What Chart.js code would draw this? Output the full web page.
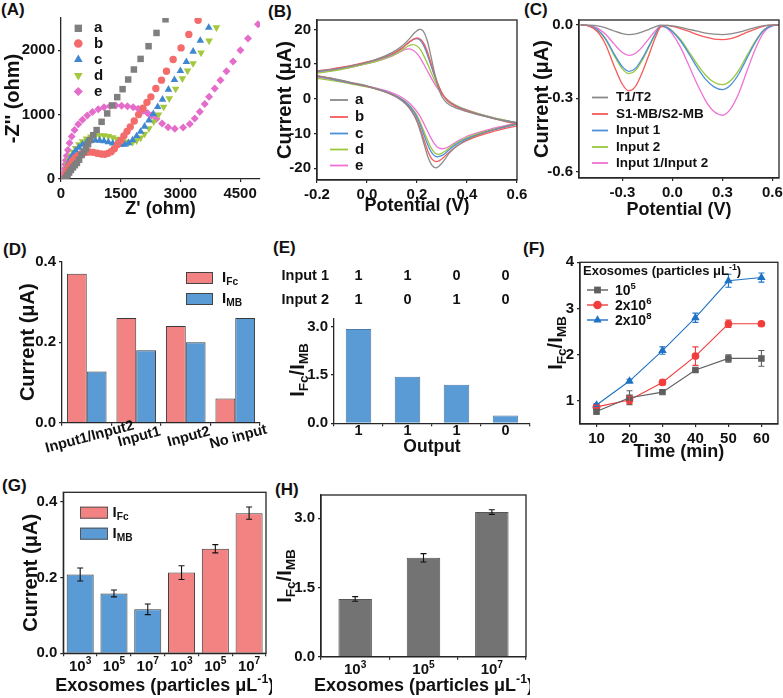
<!DOCTYPE html>
<html><head><meta charset="utf-8">
<title>Figure</title>
<script src="https://cdn.jsdelivr.net/npm/chart.js@4.4.1/dist/chart.umd.min.js"></script>
<style>
html,body{margin:0;padding:0;background:#fff;}
body{position:relative;width:783px;height:698px;overflow:hidden;}
canvas{position:absolute;}
.pl{position:absolute;font-family:'Liberation Sans',Arial,sans-serif;font-weight:bold;font-size:17px;line-height:17px;color:#111;white-space:nowrap;}
</style></head><body>
<div class="pl" style="left:1px;top:1px">(A)</div>
<div class="pl" style="left:268px;top:3px">(B)</div>
<div class="pl" style="left:524px;top:1px">(C)</div>
<div class="pl" style="left:3px;top:241px">(D)</div>
<div class="pl" style="left:273px;top:239px">(E)</div>
<div class="pl" style="left:523px;top:240px">(F)</div>
<div class="pl" style="left:2px;top:477px">(G)</div>
<div class="pl" style="left:275px;top:481px">(H)</div>
<script>
// ================= DATA =================
// (A) Nyquist plots: [Z', -Z''] pairs
const nyqNames = ['a','b','c','d','e'];
const nyqA = [[100,0],[130,25],[165,60],[205,100],[250,140],[300,180],[350,215],[400,250],[455,300],[518,372],[575,425],[627,476],[680,540],[727,604],[810,680],[895,760],[1020,888],[1161,1018],[1287,1142],[1413,1271],[1547,1395],[1688,1545],[1831,1700],[2000,1865],[2200,2062],[2400,2268],[2626,2480]];
const nyqB = [[100,0],[112,40],[130,85],[155,130],[190,180],[235,230],[290,280],[355,325],[430,362],[515,392],[610,412],[710,420],[810,414],[910,400],[1010,388],[1100,385],[1180,398],[1260,425],[1340,470],[1420,535],[1500,600],[1580,670],[1660,740],[1740,810],[1840,900],[1950,1000],[2060,1100],[2160,1190],[2258,1276],[2383,1406],[2525,1535],[2650,1674],[2818,1856],[3017,2036],[3211,2245],[3444,2465]];
const nyqC = [[100,0],[110,45],[125,95],[145,150],[172,210],[205,270],[250,330],[305,385],[370,440],[450,490],[540,535],[640,570],[750,592],[860,600],[970,598],[1080,588],[1190,572],[1300,553],[1400,538],[1500,530],[1600,535],[1700,560],[1800,605],[1900,665],[2000,735],[2100,815],[2210,910],[2320,1010],[2430,1120],[2550,1235],[2700,1390],[2850,1540],[3000,1680],[3150,1820],[3320,1980],[3500,2150],[3712,2352]];
const nyqD = [[100,0],[110,50],[125,105],[145,165],[172,230],[205,295],[250,360],[305,420],[370,480],[450,535],[540,585],[640,625],[750,655],[860,672],[970,678],[1080,675],[1190,665],[1300,645],[1400,622],[1500,598],[1600,578],[1700,565],[1800,572],[1900,598],[2000,640],[2100,700],[2210,785],[2330,890],[2450,1000],[2580,1120],[2720,1250],[2880,1400],[3050,1560],[3180,1680],[3318,1794],[3519,1960],[3720,2147],[3905,2352]];
const nyqE = [[70,0],[75,45],[82,100],[92,160],[105,225],[122,290],[145,360],[175,450],[215,560],[268,660],[340,760],[434,850],[540,920],[660,985],[790,1040],[936,1085],[1080,1115],[1229,1132],[1375,1140],[1522,1137],[1670,1131],[1814,1115],[1940,1090],[2064,1060],[2170,1025],[2275,985],[2400,935],[2541,863],[2692,805],[2859,780],[3068,801],[3236,853],[3361,941],[3487,1044],[3612,1163],[3720,1276],[3863,1406],[4006,1535],[4156,1674],[4323,1824],[4507,2000],[4698,2181],[4950,2403]];
const nyqXTicks = [0,1500,3000,4500];
const nyqYTicks = [0,1000,2000];

// (B) Cyclic voltammograms: [potential V, current uA], forward then reverse scan
const cvNames = ['a','b','c','d','e'];
const cvA = [[-0.2,8.0],[-0.15,8.3],[-0.1,8.9],[-0.05,9.6],[0,10.5],[0.05,11.7],[0.1,13.3],[0.14,15.2],[0.17,17.3],[0.19,19.0],[0.21,20.0],[0.225,19.5],[0.24,17.0],[0.255,12.5],[0.27,7.5],[0.285,3.4],[0.3,0.6],[0.32,-1.2],[0.35,-2.5],[0.4,-3.7],[0.45,-4.7],[0.5,-5.6],[0.55,-6.4],[0.6,-7.0],
  [0.55,-8.0],[0.5,-9.0],[0.45,-10.2],[0.4,-11.8],[0.36,-13.6],[0.33,-15.6],[0.31,-17.6],[0.29,-19.3],[0.275,-19.9],[0.26,-19.2],[0.245,-17.0],[0.23,-13.5],[0.215,-9.8],[0.2,-6.6],[0.18,-3.8],[0.155,-1.5],[0.12,0.4],[0.08,1.8],[0.04,2.8],[0,3.7],[-0.05,4.5],[-0.1,5.3],[-0.15,6.0],[-0.2,6.6]];
const cvB = [[-0.2,8.0],[-0.15,8.5],[-0.1,9.1],[-0.05,9.8],[0,10.6],[0.05,11.6],[0.1,12.9],[0.14,14.6],[0.17,16.4],[0.196,17.5],[0.215,17.1],[0.23,15.6],[0.245,12.8],[0.26,9.4],[0.275,6.0],[0.29,3.2],[0.305,1.0],[0.325,-0.8],[0.35,-2.0],[0.4,-3.5],[0.45,-4.6],[0.5,-5.6],[0.55,-6.5],[0.6,-7.3],
  [0.6,-7.8],[0.55,-8.6],[0.5,-9.5],[0.45,-10.6],[0.4,-12.0],[0.36,-13.6],[0.33,-15.3],[0.305,-17.0],[0.29,-17.8],[0.276,-18.1],[0.26,-17.4],[0.245,-15.3],[0.23,-12.3],[0.215,-9.0],[0.2,-6.2],[0.18,-3.6],[0.155,-1.4],[0.12,0.5],[0.08,1.8],[0.04,2.8],[0,3.6],[-0.05,4.4],[-0.1,5.2],[-0.15,6.0],[-0.2,6.7]];
const cvC = [[-0.2,7.8],[-0.15,8.3],[-0.1,9.0],[-0.05,9.7],[0,10.5],[0.05,11.5],[0.1,12.8],[0.14,14.6],[0.17,16.4],[0.192,17.3],[0.21,17.0],[0.225,15.6],[0.24,13.0],[0.255,9.8],[0.27,6.6],[0.285,3.8],[0.3,1.6],[0.32,-0.4],[0.35,-1.9],[0.4,-3.4],[0.45,-4.5],[0.5,-5.5],[0.55,-6.3],[0.6,-7.0],
  [0.6,-7.3],[0.55,-8.2],[0.5,-9.1],[0.45,-10.2],[0.4,-11.5],[0.36,-13.0],[0.33,-14.6],[0.31,-15.9],[0.293,-16.5],[0.279,-16.7],[0.265,-16.1],[0.25,-14.4],[0.235,-11.8],[0.22,-8.8],[0.205,-6.1],[0.185,-3.5],[0.16,-1.3],[0.125,0.5],[0.085,1.8],[0.04,2.8],[0,3.6],[-0.05,4.3],[-0.1,5.0],[-0.15,5.8],[-0.2,6.5]];
const cvD = [[-0.2,7.4],[-0.15,7.9],[-0.1,8.5],[-0.05,9.3],[0,10.1],[0.05,11.1],[0.1,12.4],[0.14,14.0],[0.165,15.2],[0.183,15.6],[0.2,15.2],[0.215,14.0],[0.23,12.0],[0.245,9.6],[0.26,7.0],[0.275,4.6],[0.29,2.5],[0.31,0.5],[0.335,-1.1],[0.37,-2.4],[0.42,-3.7],[0.47,-4.8],[0.52,-5.7],[0.56,-6.3],[0.6,-6.9],
  [0.6,-7.1],[0.55,-8.0],[0.5,-8.9],[0.45,-9.9],[0.4,-11.2],[0.36,-12.6],[0.33,-14.1],[0.31,-15.2],[0.296,-15.8],[0.286,-16.0],[0.272,-15.6],[0.257,-14.2],[0.242,-11.9],[0.227,-9.2],[0.212,-6.6],[0.195,-4.2],[0.17,-1.9],[0.135,0.1],[0.09,1.6],[0.045,2.6],[0,3.4],[-0.05,4.1],[-0.1,4.8],[-0.15,5.4],[-0.2,5.9]];
const cvE = [[-0.2,7.5],[-0.15,8.0],[-0.1,8.6],[-0.05,9.3],[0,10.1],[0.05,11.1],[0.1,12.3],[0.13,13.4],[0.152,14.2],[0.169,14.4],[0.185,14.0],[0.2,13.0],[0.215,11.5],[0.23,9.6],[0.245,7.6],[0.26,5.6],[0.275,3.8],[0.29,2.2],[0.31,0.5],[0.335,-1.0],[0.37,-2.4],[0.42,-3.7],[0.47,-4.8],[0.52,-5.7],[0.56,-6.3],[0.6,-6.9],
  [0.6,-7.0],[0.55,-7.8],[0.5,-8.6],[0.45,-9.6],[0.4,-10.8],[0.37,-11.9],[0.345,-13.0],[0.325,-13.9],[0.31,-14.3],[0.299,-14.4],[0.285,-14.1],[0.27,-13.0],[0.255,-11.2],[0.24,-9.0],[0.225,-6.8],[0.21,-4.8],[0.19,-2.8],[0.165,-0.9],[0.13,0.8],[0.09,2.0],[0.045,2.9],[0,3.6],[-0.05,4.3],[-0.1,5.0],[-0.15,5.7],[-0.2,6.3]];
const cvXTicks = [-0.2,0,0.2,0.4,0.6];
const cvYTicks = [-20,-10,0,10,20];

// (C) Differential pulse voltammograms
const dpvNames = ['T1/T2','S1-MB/S2-MB','Input 1','Input 2','Input 1/Input 2'];
const dpvX = [-0.55,-0.5,-0.45,-0.4,-0.35,-0.3,-0.26,-0.22,-0.18,-0.14,-0.1,-0.07,-0.03,0,0.05,0.1,0.15,0.2,0.25,0.3,0.35,0.4,0.45,0.5,0.55,0.6,0.65];
const dpvT = [0,-0.001,-0.004,-0.012,-0.025,-0.036,-0.04,-0.037,-0.029,-0.018,-0.007,-0.001,-0.002,-0.004,-0.01,-0.018,-0.026,-0.034,-0.038,-0.04,-0.037,-0.03,-0.02,-0.01,-0.003,0,0];
const dpvS = [0,-0.005,-0.027,-0.081,-0.167,-0.243,-0.27,-0.251,-0.194,-0.122,-0.049,-0.008,-0.002,-0.006,-0.015,-0.027,-0.04,-0.05,-0.058,-0.06,-0.056,-0.045,-0.03,-0.016,-0.005,-0.001,-0.001];
const dpvI1 = [0,-0.004,-0.019,-0.057,-0.118,-0.171,-0.19,-0.177,-0.137,-0.086,-0.034,-0.006,-0.011,-0.027,-0.066,-0.119,-0.175,-0.223,-0.254,-0.265,-0.246,-0.199,-0.133,-0.069,-0.021,-0.003,0];
const dpvI2 = [0,-0.004,-0.02,-0.06,-0.124,-0.18,-0.2,-0.186,-0.144,-0.09,-0.036,-0.006,-0.01,-0.025,-0.061,-0.11,-0.162,-0.206,-0.235,-0.245,-0.228,-0.184,-0.123,-0.064,-0.02,-0.002,0];
const dpvI12 = [0,-0.003,-0.013,-0.038,-0.078,-0.113,-0.125,-0.116,-0.09,-0.056,-0.023,-0.004,-0.015,-0.037,-0.093,-0.167,-0.244,-0.311,-0.355,-0.37,-0.344,-0.278,-0.185,-0.096,-0.03,-0.004,0];
const dpvXTicks = [-0.3,0,0.3,0.6];
const dpvYTicks = [-0.6,-0.3,0];

// (D) logic gate currents
const gateCats = ['Input1/Input2','Input1','Input2','No input'];
const barNames = ['I_Fc','I_MB'];
const gateFc = [0.37,0.26,0.24,0.06];
const gateMB = [0.127,0.18,0.20,0.26];
const curTicks = [0,0.2,0.4];

// (E) truth table
const truthRowNames = ['Input 1','Input 2'];
const truthInput1 = [1,1,0,0];
const truthInput2 = [1,0,1,0];
const truthOutput = ['1','1','1','0'];
const truthRatio = [2.92,1.44,1.19,0.24];
const ratioTicks = [0,1.5,3];

// (F) kinetics
const kinNames = ['10⁵','2x10⁶','2x10⁸'];
const kinTime = [10,20,30,40,50,60];
const kin1 = [0.77,1.07,1.19,1.67,1.92,1.92];
const kin1Err = [0.05,0.15,0.02,0.02,0.08,0.17];
const kin2 = [0.87,1.02,1.40,1.97,2.67,2.67];
const kin2Err = [0.03,0.08,0.02,0.2,0.08,0.03];
const kin3 = [0.91,1.43,2.09,2.80,3.60,3.67];
const kin3Err = [0.03,0.04,0.08,0.1,0.14,0.1];
const kinXTicks = [10,20,30,40,50,60];
const kinYTicks = [1,2,3,4];

// (G) currents vs exosome concentration
const exoCats6 = ['10³','10⁵','10⁷','10³','10⁵','10⁷'];
const exoMB = [0.208,0.158,0.116,null,null,null];
const exoMBErr = [0.017,0.009,0.014,null,null,null];
const exoFc = [null,null,null,0.213,0.276,0.37];
const exoFcErr = [null,null,null,0.018,0.011,0.016];

// (H) ratio vs exosome concentration
const exoCats3 = ['10³','10⁵','10⁷'];
const exoRatio = [1.25,2.14,3.13];
const exoRatioErr = [0.05,0.09,0.05];

// ================= STYLE / HELPERS =================
const FONT = "'Liberation Sans', Arial, Helvetica, sans-serif";
const AX = '#262626';
const RED = '#f38383', BLUE = '#5b9bd5';
Chart.defaults.font.family = FONT;
Chart.defaults.font.weight = 'bold';
Chart.defaults.color = '#111';
Chart.defaults.animation = false;

const SUP = {'⁰':'0','¹':'1','²':'2','³':'3','⁴':'4','⁵':'5','⁶':'6','⁷':'7','⁸':'8','⁹':'9','⁻':'-'};
function toSegs(s) {
  s = String(s); const out = []; let i = 0;
  const push = (t, m) => { if (!t) return; const l = out[out.length-1]; if (l && l[1] === m) l[0] += t; else out.push([t, m]); };
  while (i < s.length) {
    const ch = s[i];
    if (ch === '_') { let j = i+1, t = ''; while (j < s.length && /[A-Za-z0-9]/.test(s[j])) { t += s[j]; j++; } push(t, 'sub'); i = j; continue; }
    if (SUP[ch] !== undefined) { push(SUP[ch], 'sup'); i++; continue; }
    push(ch, undefined); i++;
  }
  return out;
}
function drawSegs(ctx, x, y, segs, size, align, color) {
  const parts = segs.map(s => { const m = s[1]; const fs = m ? size*0.68 : size; ctx.font = `bold ${fs}px ${FONT}`; return {t:s[0], m, fs, w:ctx.measureText(s[0]).width}; });
  const tw = parts.reduce((a,p) => a + p.w, 0);
  let cx = align === 'center' ? x - tw/2 : align === 'right' ? x - tw : x;
  ctx.fillStyle = color || '#111'; ctx.textBaseline = 'middle'; ctx.textAlign = 'left';
  parts.forEach(p => { ctx.font = `bold ${p.fs}px ${FONT}`; const dy = p.m === 'sub' ? size*0.3 : p.m === 'sup' ? -size*0.33 : 0; ctx.fillText(p.t, cx, y + dy); cx += p.w; });
}
function drawMarker(ctx, style, x, y, r, color, rot) {
  ctx.save(); ctx.fillStyle = color; ctx.translate(x, y); if (rot) ctx.rotate(rot*Math.PI/180);
  ctx.beginPath();
  if (style === 'rect') { const h = r*Math.SQRT1_2; ctx.rect(-h, -h, 2*h, 2*h); }
  else if (style === 'circle') ctx.arc(0, 0, r, 0, Math.PI*2);
  else if (style === 'triangle') { for (let k = 0; k < 3; k++) { const a = k*2*Math.PI/3; const px = Math.sin(a)*r, py = -Math.cos(a)*r; k ? ctx.lineTo(px, py) : ctx.moveTo(px, py); } ctx.closePath(); }
  else if (style === 'rectRot') { ctx.moveTo(0,-r); ctx.lineTo(r,0); ctx.lineTo(0,r); ctx.lineTo(-r,0); ctx.closePath(); }
  ctx.fill(); ctx.restore();
}
function drawItem(chart, it, ox, oy) {
  const ctx = chart.ctx; ctx.save();
  const X = v => v - ox, Y = v => v - oy;
  if (it.k === 'text') {
    ctx.translate(X(it.x), Y(it.y)); if (it.rot) ctx.rotate(it.rot*Math.PI/180);
    drawSegs(ctx, 0, 0, toSegs(it.text), it.size, it.align || 'left', it.color);
  } else if (it.k === 'marker') {
    drawMarker(ctx, it.style, X(it.x), Y(it.y), it.r, it.color, it.rot);
  } else if (it.k === 'line') {
    ctx.strokeStyle = it.color; ctx.lineWidth = it.lw || 1.5;
    ctx.beginPath(); ctx.moveTo(X(it.x1), Y(it.y)); ctx.lineTo(X(it.x2), Y(it.y)); ctx.stroke();
  } else if (it.k === 'box') {
    ctx.fillStyle = it.fill; ctx.fillRect(X(it.x), Y(it.y), it.w, it.h);
    ctx.strokeStyle = it.stroke || '#333'; ctx.lineWidth = 1; ctx.strokeRect(X(it.x)+0.5, Y(it.y)+0.5, it.w-1, it.h-1);
  } else if (it.k === 'xlabels') {
    const sc = chart.scales.x;
    it.labels.forEach((lab, i) => {
      ctx.save(); ctx.translate(sc.getPixelForTick(i) + (it.dx || 0), Y(it.y)); if (it.rot) ctx.rotate(it.rot*Math.PI/180);
      drawSegs(ctx, 0, 0, toSegs(lab), it.size, 'center', it.color); ctx.restore();
    });
  }
  ctx.restore();
}
const extras = {
  id: 'extras',
  afterDatasetsDraw(chart) {
    const ctx = chart.ctx;
    chart.data.datasets.forEach((ds, i) => {
      if (!ds.errors) return;
      const meta = chart.getDatasetMeta(i); const ys = chart.scales[meta.yAxisID];
      ctx.save(); ctx.strokeStyle = ds.errorColor || '#111'; ctx.lineWidth = 1.1;
      meta.data.forEach((el, j) => {
        const e = ds.errors[j], raw = ds.data[j];
        if (e == null || raw == null) return;
        const v = typeof raw === 'object' ? raw.y : raw;
        const x = el.x, y1 = ys.getPixelForValue(v + e), y2 = ys.getPixelForValue(v - e), cw = ds.capWidth || 3;
        ctx.beginPath(); ctx.moveTo(x, y1); ctx.lineTo(x, y2);
        ctx.moveTo(x-cw, y1); ctx.lineTo(x+cw, y1); ctx.moveTo(x-cw, y2); ctx.lineTo(x+cw, y2); ctx.stroke();
      });
      ctx.restore();
    });
  },
  afterDraw(chart, args, o) {
    const ctx = chart.ctx, a = chart.chartArea;
    if (o.frame) { ctx.save(); ctx.strokeStyle = AX; ctx.lineWidth = 1.3; ctx.strokeRect(a.left, a.top, a.right - a.left, a.bottom - a.top); ctx.restore(); }
    (o.items || []).forEach(it => drawItem(chart, it, o.ox, o.oy));
  }
};
function axis(isX, size, o) {
  const ts = o.titleSize || (isX ? 18 : 20);
  const ticks = {display: !o.hideTicks, font:{size:o.tickSize || 14, weight:'bold'}, color:'#111', padding: o.tickPad ?? 3, autoSkip:false, maxRotation:0, minRotation:0};
  if (o.fmt) ticks.callback = o.fmt;
  const ax = {
    type: o.type || 'linear', position: isX ? 'bottom' : 'left',
    border: {display:true, color:AX, width:1.3},
    grid: {display:true, drawOnChartArea:false, drawTicks:true, tickLength:3, color:AX, lineWidth:1.2},
    ticks: ticks,
    title: o.title ? {display:true, text:o.title, color:'#111', font:{size:ts, weight:'bold', lineHeight:1.2}, padding: isX ? {top:0, bottom:o.titlePad} : {top:o.titlePad, bottom:0}} : {display:false},
    afterFit: s => { if (isX) s.height = size; else s.width = size; s.paddingLeft = 0; s.paddingRight = 0; s.paddingTop = 0; s.paddingBottom = 0; }
  };
  if (o.min !== undefined) ax.min = o.min;
  if (o.max !== undefined) ax.max = o.max;
  if (o.vals) ax.afterBuildTicks = s => { s.ticks = o.vals.map(v => ({value:v})); };
  return ax;
}
function mkScales(r, area, xo, yo) {
  if (xo.titleC != null) xo.titlePad = r.y + r.h - xo.titleC - (xo.titleSize || 18)*0.6;
  if (yo.titleC != null) yo.titlePad = yo.titleC - r.x - (yo.titleSize || 20)*0.6;
  return {x: axis(true, r.y + r.h - area.y2, xo), y: axis(false, area.x1 - r.x, yo)};
}
function panel(r, area, cfg, items, frame) {
  const c = document.createElement('canvas');
  c.width = r.w; c.height = r.h;
  c.style.left = r.x + 'px'; c.style.top = r.y + 'px'; c.style.width = r.w + 'px'; c.style.height = r.h + 'px';
  document.body.appendChild(c);
  cfg.options.responsive = false; cfg.options.devicePixelRatio = 1; cfg.options.animation = false;
  cfg.options.layout = {padding:{left:0, top:area.y1 - r.y, right:r.x + r.w - area.x2, bottom:0}};
  cfg.options.plugins = {legend:{display:false}, tooltip:{enabled:false}, extras:{ox:r.x, oy:r.y, frame:frame, items:items}};
  cfg.plugins = [extras];
  return new Chart(c, cfg);
}
const f1 = v => v.toFixed(1);
const f0 = v => String(v);
const pairs = arr => arr.map(p => ({x:p[0], y:p[1]}));
const ratioTitle = 'I_Fc/I_MB';

// ================= (A) =================
{
  const r = {x:0, y:0, w:268, h:225}, area = {x1:61, y1:18, x2:260, y2:179};
  const series = [nyqA, nyqB, nyqC, nyqD, nyqE];
  const cols = ['#7f7f7f','#f36b6b','#3f87d0','#a3c83b','#e46ccb'];
  const sty = ['rect','circle','triangle','triangle','rectRot'];
  const rot = [0,0,0,180,0];
  const rad = [4.6,3.7,4.4,4.4,4.0];
  const rows = [28.3,43.5,59.5,75.5,91.5];
  const items = [];
  nyqNames.forEach((n, i) => {
    items.push({k:'marker', style:sty[i], x:78.3, y:rows[i], r:rad[i]+0.6, color:cols[i], rot:rot[i]});
    items.push({k:'text', x:94, y:rows[i], text:n, size:15});
  });
  panel(r, area, {
    type:'scatter',
    data:{datasets: series.map((d, i) => ({label:nyqNames[i], data:pairs(d), showLine:false, pointStyle:sty[i], pointRotation:rot[i], pointRadius:rad[i], backgroundColor:cols[i], borderColor:cols[i], borderWidth:0}))},
    options:{scales: mkScales(r, area, {min:0, max:5000, vals:nyqXTicks, fmt:f0, title:"Z' (ohm)", titleC:209, tickSize:15}, {min:0, max:2500, vals:nyqYTicks, fmt:f0, title:"-Z'' (ohm)", titleC:13, tickSize:15})}
  }, items, false);
}
// ================= (B) =================
{
  const r = {x:265, y:0, w:262, h:225}, area = {x1:317, y1:20, x2:517, y2:180};
  const series = [cvA, cvB, cvC, cvD, cvE];
  const cols = ['#8a8a8a','#f45b5b','#4b90d8','#9cc83f','#ef72d2'];
  const rows = [100,117,133.5,149.5,165.5];
  const items = [];
  cvNames.forEach((n, i) => {
    items.push({k:'line', x1:330, x2:348, y:rows[i], color:cols[i], lw:1.8});
    items.push({k:'text', x:355, y:rows[i], text:n, size:15});
  });
  panel(r, area, {
    type:'scatter',
    data:{datasets: series.map((d, i) => ({label:cvNames[i], data:pairs(d), showLine:true, tension:0.3, pointRadius:0, borderColor:cols[i], backgroundColor:cols[i], borderWidth:1.3}))},
    options:{scales: mkScales(r, area, {min:-0.2, max:0.6, vals:cvXTicks, fmt:f1, title:'Potential (V)', titleC:206, tickSize:15}, {min:-23.4, max:22.7, vals:cvYTicks, fmt:f0, title:'Current (μA)', titleC:285, tickSize:15})}
  }, items, true);
}
// ================= (C) =================
{
  const r = {x:525, y:0, w:258, h:225}, area = {x1:579, y1:20, x2:779, y2:178};
  const series = [dpvT, dpvS, dpvI1, dpvI2, dpvI12];
  const cols = ['#8a8a8a','#f45b5b','#4b90d8','#9cc83f','#ef72d2'];
  const rows = [97.5,114,130.5,147,163];
  const items = [];
  dpvNames.forEach((n, i) => {
    items.push({k:'line', x1:592, x2:608, y:rows[i], color:cols[i], lw:1.8});
    items.push({k:'text', x:616, y:rows[i], text:n, size:13.5});
  });
  panel(r, area, {
    type:'scatter',
    data:{datasets: series.map((d, i) => ({label:dpvNames[i], data:dpvX.map((x, j) => ({x, y:d[j]})), showLine:true, cubicInterpolationMode:'monotone', pointRadius:0, borderColor:cols[i], backgroundColor:cols[i], borderWidth:1.3}))},
    options:{scales: mkScales(r, area, {min:-0.56, max:0.64, vals:dpvXTicks, fmt:f1, title:'Potential (V)', titleC:210, tickSize:15}, {min:-0.627, max:0.02, vals:dpvYTicks, fmt:f1, title:'Current (μA)', titleC:542, tickSize:15})}
  }, items, true);
}
// ================= (D) =================
{
  const r = {x:0, y:232, w:268, h:228}, area = {x1:62, y1:261.7, x2:260, y2:422.7};
  const items = [
    {k:'box', x:186, y:272, w:27, h:12, fill:RED, stroke:'#444'},
    {k:'text', x:222, y:277.5, text:barNames[0], size:15},
    {k:'box', x:186, y:293, w:27, h:12, fill:BLUE, stroke:'#444'},
    {k:'text', x:222, y:298.5, text:barNames[1], size:15},
    {k:'xlabels', labels:gateCats, y:437, dx:3, rot:-15, size:14.5}
  ];
  panel(r, area, {
    type:'bar',
    data:{labels:gateCats, datasets:[
      {label:barNames[0], data:gateFc, backgroundColor:RED, borderColor:'#3a3a3a', borderWidth:1, categoryPercentage:0.8, barPercentage:1},
      {label:barNames[1], data:gateMB, backgroundColor:BLUE, borderColor:'#3a3a3a', borderWidth:1, categoryPercentage:0.8, barPercentage:1}
    ]},
    options:{scales: mkScales(r, area, {type:'category', hideTicks:true}, {min:0, max:0.4, vals:curTicks, fmt:f1, title:'Current (μA)', titleC:28, tickSize:15})}
  }, items, false);
}
// ================= (E) =================
{
  const r = {x:265, y:240, w:268, h:222}, area = {x1:334, y1:318.3, x2:530, y2:423.3};
  const items = [
    {k:'text', x:281.5, y:275.7, text:truthRowNames[0], size:14.5},
    {k:'xlabels', labels:truthInput1, y:275.7, size:14.5},
    {k:'text', x:281.5, y:300, text:truthRowNames[1], size:14.5},
    {k:'xlabels', labels:truthInput2, y:300, size:14.5},
    {k:'xlabels', labels:truthOutput, y:431, size:14.5},
    {k:'text', x:298, y:370, text:ratioTitle, size:20, align:'center', rot:-90}
  ];
  panel(r, area, {
    type:'bar',
    data:{labels:truthOutput, datasets:[{label:ratioTitle, data:truthRatio, backgroundColor:BLUE, borderColor:'#4a7cab', borderWidth:1, categoryPercentage:1, barPercentage:0.52}]},
    options:{scales: mkScales(r, area, {type:'category', hideTicks:true, title:'Output', titleC:447.5, titleSize:17.5}, {min:0, max:3.25, vals:ratioTicks, fmt:f1, tickSize:15})}
  }, items, false);
}
// ================= (F) =================
{
  const r = {x:525, y:240, w:258, h:222}, area = {x1:580, y1:262.3, x2:778.3, y2:424};
  const series = [kin1, kin2, kin3], errs = [kin1Err, kin2Err, kin3Err];
  const cols = ['#5f5f5f','#f23d3d','#1f72c4'];
  const sty = ['rect','circle','triangle'];
  const rad = [3.8,3.3,3.8];
  const rows = [290,305,320];
  const items = [
    {k:'text', x:583, y:271.7, text:'Exosomes (particles μL⁻¹)', size:13},
    {k:'text', x:556.5, y:343, text:ratioTitle, size:20, align:'center', rot:-90}
  ];
  kinNames.forEach((n, i) => {
    items.push({k:'line', x1:587, x2:608, y:rows[i], color:cols[i], lw:1.4});
    items.push({k:'marker', style:sty[i], x:597.5, y:rows[i], r:rad[i]+1, color:cols[i]});
    items.push({k:'text', x:615, y:rows[i] + 1, text:n, size:14});
  });
  panel(r, area, {
    type:'scatter',
    data:{datasets: series.map((d, i) => ({label:kinNames[i], data:kinTime.map((t, j) => ({x:t, y:d[j]})), errors:errs[i], errorColor:cols[i], capWidth:3, showLine:true, tension:0, pointStyle:sty[i], pointRadius:rad[i], backgroundColor:cols[i], borderColor:cols[i], borderWidth:1.1}))},
    options:{scales: mkScales(r, area, {min:5, max:65, vals:kinXTicks, fmt:f0, title:'Time (min)', titleC:452, tickSize:15}, {min:0.5, max:4, vals:kinYTicks, fmt:f0, tickSize:15})}
  }, items, true);
}
// ================= (G) =================
{
  const r = {x:0, y:465, w:272, h:233}, area = {x1:63.3, y1:492.3, x2:266, y2:653.3};
  const items = [
    {k:'box', x:80, y:506.7, w:28, h:12, fill:RED, stroke:'#555'},
    {k:'text', x:112.5, y:512.5, text:barNames[0], size:15},
    {k:'box', x:80, y:527.7, w:28, h:12, fill:BLUE, stroke:'#555'},
    {k:'text', x:112.5, y:533.5, text:barNames[1], size:15},
    {k:'xlabels', labels:exoCats6, y:666.5, size:15},
    {k:'text', x:164.7, y:686, text:'Exosomes (particles μL⁻¹)', size:18, align:'center'}
  ];
  panel(r, area, {
    type:'bar',
    data:{labels:exoCats6, datasets:[
      {label:barNames[1], data:exoMB, errors:exoMBErr, capWidth:3, backgroundColor:BLUE, borderColor:'#3a3a3a', borderWidth:1, grouped:false, categoryPercentage:1, barPercentage:0.8},
      {label:barNames[0], data:exoFc, errors:exoFcErr, capWidth:3, backgroundColor:RED, borderColor:'#3a3a3a', borderWidth:1, grouped:false, categoryPercentage:1, barPercentage:0.8}
    ]},
    options:{scales: mkScales(r, area, {type:'category', hideTicks:true}, {min:0, max:0.425, vals:curTicks, fmt:f1, title:'Current (μA)', titleC:31, tickSize:15})}
  }, items, true);
}
// ================= (H) =================
{
  const r = {x:268, y:465, w:262, h:233}, area = {x1:321, y1:495, x2:526, y2:656.7};
  const items = [
    {k:'xlabels', labels:exoCats3, y:670, size:15},
    {k:'text', x:423.5, y:686, text:'Exosomes (particles μL⁻¹)', size:18, align:'center'},
    {k:'text', x:285.5, y:576, text:ratioTitle, size:20, align:'center', rot:-90}
  ];
  panel(r, area, {
    type:'bar',
    data:{labels:exoCats3, datasets:[{label:ratioTitle, data:exoRatio, errors:exoRatioErr, capWidth:3, backgroundColor:'#737373', borderColor:'#555', borderWidth:1, categoryPercentage:1, barPercentage:0.49}]},
    options:{scales: mkScales(r, area, {type:'category', hideTicks:true}, {min:0, max:3.5, vals:ratioTicks, fmt:f1, tickSize:15})}
  }, items, true);
}
</script>
</body></html>
